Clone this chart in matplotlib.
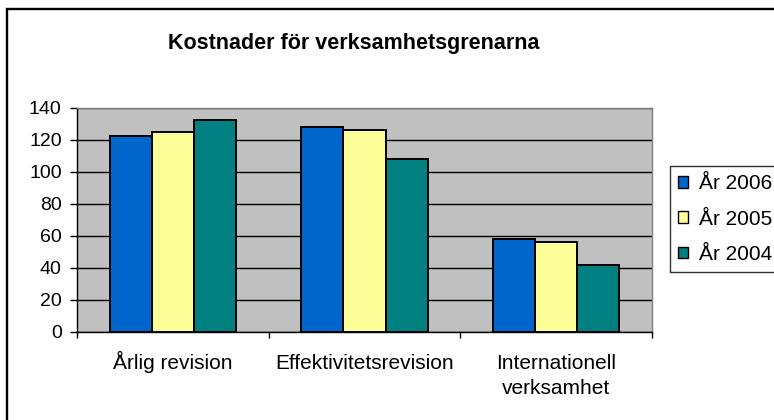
import matplotlib
matplotlib.use('Agg')
import matplotlib.pyplot as plt
import matplotlib.transforms as mtransforms
import numpy as np
from matplotlib.patches import Rectangle

# data
categories = ['Årlig revision', 'Effektivitetsrevision', 'Internationell\nverksamhet']
series_names = ['År 2006', 'År 2005', 'År 2004']
ar_2006 = [122, 128, 58]
ar_2005 = [125, 126, 56]
ar_2004 = [132, 108, 42]
yticks = [0, 20, 40, 60, 80, 100, 120, 140]

colors = ['#0066CC', '#FFFF99', '#008080']

plt.rcParams['font.family'] = ['Liberation Sans', 'DejaVu Sans']

W, H = 774, 420
fig = plt.figure(figsize=(W / 100, H / 100), dpi=100)
fig.patch.set_facecolor('white')

ax = fig.add_axes([77 / W, 1 - 332 / H, (652 - 77) / W, (332 - 107.5) / H])
ax.set_facecolor('#C0C0C0')

x = np.arange(len(categories))
w = 0.22
series = [ar_2006, ar_2005, ar_2004]
handles = []
for i, (vals, c) in enumerate(zip(series, colors)):
    b = ax.bar(x + (i - 1) * w, vals, w, color=c, edgecolor='black', linewidth=1.4, zorder=3)
    handles.append(b)

ax.set_xlim(-0.5, len(categories) - 0.5)
ax.set_ylim(0, 140)
ax.set_yticks(yticks)
ax.yaxis.grid(True, color='black', linewidth=1.0, zorder=1)
ax.set_axisbelow(True)

# ticks at category boundaries, labels at centres (baseline aligned per line)
ax.set_xticks(np.arange(-0.5, len(categories), 1.0))
ax.set_xticklabels([])
ax.tick_params(axis='x', which='major', direction='out', length=4, width=1, color='black')
ax.tick_params(axis='y', direction='out', length=5, width=1, color='black', labelsize=14, pad=6)

base = ax.get_xaxis_transform()
for xi, lab in zip(x, categories):
    for j, line in enumerate(lab.split('\n')):
        tr = mtransforms.offset_copy(base, fig=fig, x=0, y=-(37 + 25 * j) * 0.72, units='points')
        ax.text(xi, 0, line, transform=tr, ha='center', va='baseline', fontsize=15)

for s in ['left', 'bottom']:
    ax.spines[s].set_color('black')
    ax.spines[s].set_linewidth(1.0)
for s in ['top', 'right']:
    ax.spines[s].set_color('#808080')
    ax.spines[s].set_linewidth(1.0)

fig.text(354 / W, 1 - 44 / H, 'Kostnader för verksamhetsgrenarna',
         ha='center', va='center', fontsize=15.5, fontweight='bold')

leg = fig.legend(handles, series_names, loc='upper left',
                 bbox_to_anchor=(670 / W, 1 - 166 / H), fontsize=15,
                 frameon=True, fancybox=False, shadow=False,
                 handlelength=0.48, handleheight=0.48, handletextpad=0.5,
                 labelspacing=0.78, borderpad=0.4, borderaxespad=0)
leg.get_frame().set_edgecolor('black')
leg.get_frame().set_linewidth(1.0)
for p in leg.get_patches():
    p.set_linewidth(1.0)

# outer chart border
fig.patches.append(Rectangle((7 / W, -0.1), 1.2, 1.1 - 9 / H, transform=fig.transFigure,
                             fill=False, edgecolor='black', linewidth=1.7))

fig.savefig('out.png', dpi=100)
